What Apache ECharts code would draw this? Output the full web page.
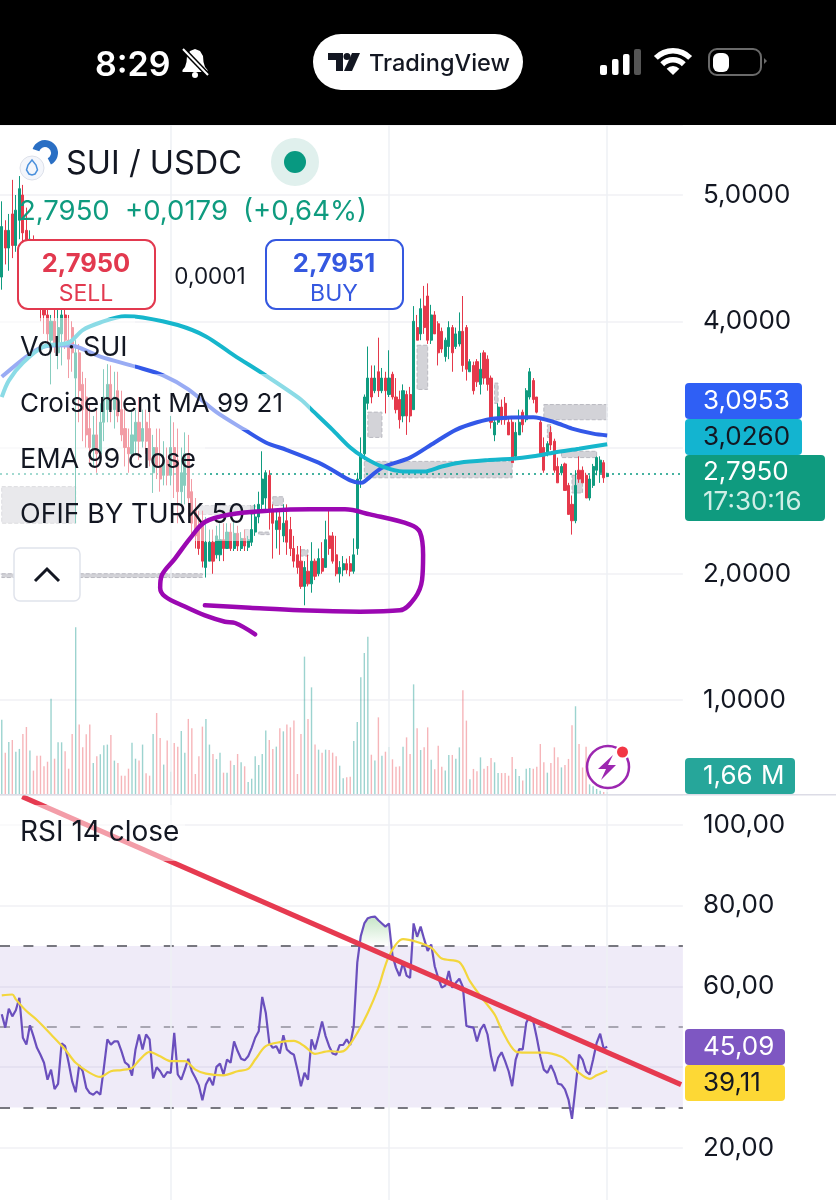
<!DOCTYPE html>
<html><head><meta charset="utf-8">
<style>html,body{margin:0;padding:0;background:#fff}#c{width:836px;height:1200px}</style>
<script src="https://cdn.jsdelivr.net/npm/echarts@6/dist/echarts.min.js"></script>
</head><body><div id="c"></div>
<script>
const opens=[4.35,4.72,4.58,4.85,4.60,4.80,5.00,4.72,4.45,4.60,
4.45,4.30,4.15,4.05,3.85,4.00,3.75,3.90,4.05,3.85,
3.95,3.55,3.75,3.50,3.40,3.15,2.98,3.10,2.95,3.20,
3.30,3.50,3.30,3.45,3.30,3.15,3.00,2.95,3.05,3.20,
3.05,3.20,3.15,2.80,3.00,2.85,2.78,2.90,2.78,3.00,
2.90,2.65,2.70,2.95,2.65,2.50,2.35,2.40,2.05,2.10,
2.25,2.15,2.15,2.27,2.20,2.33,2.20,2.32,2.20,2.28,
2.21,2.25,2.33,2.45,2.55,2.60,2.78,2.50,2.35,2.45,
2.30,2.42,2.35,2.20,2.15,2.10,1.90,2.02,1.92,2.10,
2.00,2.12,2.05,2.30,2.30,2.15,2.00,2.03,2.08,2.08,
2.02,2.20,2.75,2.95,3.35,3.55,3.45,3.60,3.45,3.55,
3.42,3.58,3.40,3.38,3.25,3.42,3.42,3.30,3.95,3.90,
4.12,4.20,3.85,4.05,3.98,3.92,3.72,3.80,3.95,3.80,
3.82,3.92,3.95,3.60,3.65,3.68,3.50,3.75,3.70,3.55,
3.10,3.20,3.32,3.35,3.20,3.20,2.93,3.10,3.28,3.22,
3.40,3.53,3.40,3.20,3.00,2.95,3.12,3.05,2.85,2.80,
2.87,2.70,2.55,2.42,2.82,2.82,2.78,2.60,2.70,2.82,
2.80,2.88,2.77];
const closes=[4.75,4.58,4.72,4.60,4.88,5.05,4.70,4.50,4.65,4.45,
4.30,4.15,4.05,3.90,4.00,3.80,3.95,4.05,3.85,3.70,
3.75,3.75,3.45,3.30,3.10,3.00,3.10,2.95,3.20,3.40,
3.50,3.30,3.40,3.25,3.10,3.00,2.95,3.10,3.20,3.05,
3.15,3.05,2.90,3.00,2.85,2.75,2.90,2.78,3.00,2.85,
2.65,2.80,2.95,2.60,2.40,2.30,2.20,2.10,2.25,2.25,
2.10,2.30,2.27,2.20,2.33,2.20,2.32,2.22,2.28,2.22,
2.27,2.35,2.45,2.55,2.75,2.80,2.50,2.40,2.42,2.35,
2.40,2.25,2.20,2.10,2.05,1.90,2.05,1.92,2.10,1.98,
2.12,2.02,2.27,2.20,2.10,2.00,2.05,2.08,2.03,2.02,
2.15,2.75,2.95,3.40,3.55,3.40,3.55,3.45,3.55,3.45,
3.55,3.40,3.30,3.22,3.45,3.25,3.25,4.00,3.85,4.10,
3.95,3.85,4.05,3.90,3.75,3.78,3.85,3.95,3.75,3.90,
3.92,3.65,3.62,3.68,3.45,3.52,3.62,3.55,3.50,3.20,
3.20,3.32,3.22,3.22,3.10,2.88,3.12,3.20,3.18,3.45,
3.60,3.38,3.28,2.95,2.82,3.03,3.02,2.82,2.72,2.85,
2.66,2.47,2.42,2.70,2.75,2.72,2.60,2.75,2.85,2.92,
2.90,2.76,2.795];
const lows=[4.25,4.45,4.40,4.50,4.55,4.65,4.55,4.30,4.25,4.20,
4.15,4.00,3.90,3.80,3.50,3.75,3.62,3.65,3.78,3.55,
3.60,2.40,3.20,3.05,3.00,2.88,2.85,2.80,2.95,3.05,
3.20,3.20,3.15,3.20,3.05,2.85,2.80,2.90,2.95,2.90,
3.00,2.95,2.85,2.64,2.75,2.65,2.70,2.70,2.70,2.60,
2.40,2.55,2.55,2.45,2.30,2.20,2.15,2.05,1.97,2.10,
2.00,2.12,2.10,2.10,2.20,2.18,2.18,2.18,2.18,2.18,
2.18,2.22,2.30,2.40,2.50,2.50,2.35,2.12,2.20,2.15,
2.25,2.15,2.14,2.05,2.00,1.88,1.75,1.90,1.85,1.95,
1.98,2.00,2.05,2.15,2.08,1.98,1.93,1.98,2.00,1.98,
2.00,2.15,2.68,2.90,3.30,3.35,3.43,3.40,3.43,3.27,
3.40,3.38,3.27,3.15,3.20,3.10,3.20,3.30,3.85,3.85,
3.90,3.82,3.82,3.90,3.65,3.75,3.68,3.70,3.60,3.78,
3.80,3.60,3.53,3.60,3.42,3.48,3.42,3.50,3.45,3.15,
3.05,3.18,3.18,3.18,3.10,2.88,2.90,3.10,3.12,3.20,
3.38,3.35,3.27,2.93,2.80,2.93,2.98,2.80,2.72,2.78,
2.66,2.47,2.31,2.40,2.72,2.72,2.60,2.58,2.68,2.78,
2.72,2.72,2.765];
const highs=[4.95,4.80,4.85,5.12,5.00,5.15,5.08,4.90,4.72,4.68,
4.50,4.40,4.25,4.12,4.05,4.15,4.10,4.15,4.15,4.05,
4.00,3.85,3.82,3.60,3.55,3.35,3.25,3.30,3.35,3.62,
3.66,3.65,3.60,3.60,3.45,3.35,3.15,3.30,3.30,3.40,
3.30,3.30,3.32,3.10,3.15,3.15,3.05,3.00,3.25,3.20,
3.15,3.00,3.12,3.10,2.75,2.60,2.50,2.50,2.45,2.35,
2.35,2.38,2.40,2.40,2.40,2.40,2.42,2.38,2.33,2.35,
2.30,2.50,2.55,2.65,2.97,2.82,2.82,2.55,2.50,2.50,
2.55,2.55,2.45,2.30,2.22,2.22,2.10,2.15,2.25,2.12,
2.20,2.25,2.42,2.50,2.33,2.30,2.10,2.14,2.12,2.14,
2.28,2.80,3.08,3.42,3.80,3.65,3.65,3.87,3.63,3.60,
3.77,3.60,3.55,3.45,3.50,3.45,3.48,4.12,4.05,4.18,
4.28,4.30,4.13,4.08,4.00,3.95,3.87,4.00,3.97,3.95,
4.07,4.20,3.97,3.70,3.68,3.70,3.75,3.77,3.73,3.57,
3.22,3.35,3.38,3.40,3.25,3.25,3.20,3.30,3.30,3.47,
3.63,3.55,3.40,3.22,3.08,3.05,3.17,3.07,2.92,2.87,
2.88,2.72,2.62,2.82,2.93,2.85,2.80,2.78,2.87,2.93,
2.93,2.90,2.80];
const volumes=[61.7,34.3,43.2,44.8,35.1,37.4,49.8,55.6,36,19.4,
31.8,31.8,23,26.8,79.1,29.3,42.9,42.9,35.4,21,
49.8,138.4,57.6,38.7,49.5,57.6,25.7,31.3,33,40.4,
41,49,27.7,25.7,15.2,15.2,21,42.6,29.3,27.7,
41,17.2,15.2,49.8,67.2,46.5,24.4,44.5,18.5,42.3,
39.3,52.3,34.3,62.3,54.5,16.6,31.3,55.9,62.3,41,
33.2,29,34.3,17.7,17.7,27.7,24.1,33.2,26.3,23,
10,12.7,31.3,24.1,33.2,52.8,44.8,37.4,39.3,54.5,
52,57.6,55.3,60.9,16.6,49.8,114,62.3,88.5,41,
36.8,34.3,36.8,36.5,34.3,31.3,23.5,13,13.8,14.4,
44,59.8,96.8,117,130.6,32.6,27.7,63.6,31.8,35.1,
39,28.8,22.7,23,39.3,47,33.2,91,54.5,36.5,
38.7,55.3,28.5,20.5,40.1,22.7,19.4,32.4,32.4,29.3,
38.7,86,60.9,12.2,20.8,18.8,30.4,21,23.2,29.9,
26.3,17.4,17.4,17.4,15.2,30.7,20.8,14.9,11.1,21,
21.6,21,22.7,41.5,26.3,17.7,25.7,38.7,30.4,22.1,
24.1,29.1,57,72.8,41.5,22,39.3,8,6.4,4.2,
2.8,1.7,1.66];
const rsi=[53.1,49.8,54.5,52.6,54.1,57.2,47.3,45.6,50.4,47.7,
44.8,43.1,41.1,36.9,39.4,34.6,35.9,45.9,45.2,41.1,
36.5,33.8,40.5,39,34.9,33.6,33.2,34,33.2,39.8,
46.9,45.6,46.4,46.4,44,41.2,40.5,37.9,44.4,48.1,
44.4,48.1,46.9,37.2,40,39,37.5,38.8,38.6,48.5,
38.2,36.9,39.4,42.1,39,37.4,35.5,31.8,35.7,37.4,
35.5,40.1,40.9,38.2,41.9,41.1,46.4,44,42.1,41.7,
42.7,44.8,47.3,48.9,57.4,53.5,46,44.8,45.2,43.4,
47.9,44.4,43.6,43.1,39.4,35.3,38.6,36.9,46.9,44.4,
47.7,51.3,47.7,45.2,43.4,43.1,45.5,45.5,46.9,45.5,
50.2,65.9,72.5,75.6,76.9,77.2,77.3,76.4,75.6,74.8,
75.6,67.7,64.6,62.6,65.9,62.7,62.1,75.6,72.3,74.8,
71.7,68.8,70.4,65,62.1,59.7,60.2,63.8,59.7,60.9,
61.9,59.9,50.2,50,49.8,46.4,49.3,50.6,48.1,42.7,
39,42.3,43.7,41.5,39,35.3,41.9,44.5,44.4,51,
52.6,51.4,47.3,42.7,39.4,38.6,40.5,38.6,35.9,35.7,
34.5,32,27.2,35,43.1,41.9,39,38.2,41.9,46,
48.3,44.6,45.09];
const rsiMaIdx=[0,3,4,7,10,14,18,21,25,28,31,34,37,39,42,45,48,52,55,58,63,67,70,72,75,79,83,86,89,93,96,98,101,104,107,110,114,118,122,125,130,133,136,140,142,146,149,154,159,161,164,167,169,172];
const rsiMaVal=[57.8,58,56.8,53.9,51.7,48.1,44.4,41.1,38.6,37.6,39,39.3,39.8,41.7,43.8,42.7,41.5,41.5,39.4,38.4,38,39,39.6,41.9,45.2,46.2,46.5,45.2,43.3,44,43.8,44.6,48.5,53.5,59.7,67.5,71.7,71,69.6,66.9,66,61.3,57.6,53.1,49.3,43.9,43.6,43.6,42.6,41.3,38.6,37.1,38,39.11];
const emaIdx=[0,7,11,16,21,28,38,46,53,61,69,75,81,90,94,99,102,103,108,116,123,129,135,140,151,157,162,168,172];
const emaVal=[3.56,3.72,3.79,3.81,3.80,3.72,3.64,3.57,3.46,3.28,3.14,3.04,2.98,2.88,2.82,2.74,2.72,2.73,2.84,2.92,3.04,3.14,3.20,3.23,3.24,3.20,3.15,3.11,3.0953];
const maIdx=[0,2,6,12,19,23,28,35,40,50,58,66,75,85,88,94,99,103,108,114,120,125,130,138,145,151,157,164,172];
const maVal=[3.40,3.53,3.67,3.80,3.83,3.93,3.99,4.04,4.03,3.97,3.88,3.73,3.57,3.38,3.30,3.14,3.00,2.92,2.85,2.81,2.81,2.85,2.88,2.90,2.91,2.93,2.96,2.99,3.026];
const boxStart=[104,118,103,154,159,155,140,162,0,0,56,77,73,85,69];
const boxEnd=[108,121,145,172,169,156,141,165,21,57,72,80,76,87,71];
const boxTop=[3.28,3.81,2.89,3.34,2.97,3.18,3.51,2.78,2.69,2.00,2.54,2.61,2.33,2.19,2.35];
const boxBottom=[3.08,3.46,2.76,3.22,2.92,3.08,3.35,2.64,2.40,1.97,2.47,2.54,2.31,2.14,2.25];
const scribbleIdx=[72,66.3,63.4,57.7,52,46.4,45,45.5,49.2,53.5,57.7,64.8,76.2,87.6,97.5,104.6,116,118.8,119.7,119.4,117.4,113.1,101.8,84.7,70.5,57.7];
const scribbleVal=[1.52,1.61,1.62,1.67,1.74,1.82,1.89,1.99,2.12,2.28,2.41,2.47,2.50,2.51,2.51,2.47,2.39,2.33,2.15,1.95,1.81,1.71,1.70,1.71,1.73,1.75];
const trendIdx=[6.3,193.5];
const trendVal=[107,35.7];
const vLines=[48.5,110.5,172.5];
const lastPrice=2.795;
const rsiLevels=[70,50,30];

const SLOTS=194, BAND=3.52;
const cats=Array.from({length:SLOTS},(_,i)=>String(i));
const GREEN='#0f9b7f', RED='#e5394b';
const candles=opens.map((o,i)=>[o,closes[i],lows[i],highs[i]]);
const volData=volumes.map((v,i)=>({value:v,itemStyle:{color:closes[i]>=opens[i]?'rgba(20,150,140,.42)':'rgba(235,90,100,.45)'}}));
const pair=(a,b,off)=>a.map((x,i)=>[x+(off||0),b[i]]);
const vLine=()=>({silent:true,symbol:'none',label:{show:false},lineStyle:{color:'#eef0f4',width:1.5,type:'solid'},data:vLines.map(x=>({xAxis:x}))});
const comma=(v,d)=>v.toFixed(d).replace('.',',');
const F='Inter, "Noto Sans", sans-serif';

const chart=echarts.init(document.getElementById('c'),null,{renderer:'canvas',width:836,height:1200});
const hiddenCat=g=>({type:'category',gridIndex:g,data:cats,boundaryGap:true,show:false});
const hiddenVal=g=>({type:'value',gridIndex:g,min:0,max:SLOTS,show:false,splitLine:{show:false}});
const overbought=rsi.map(v=>v>70?v-70:null);
const base70=rsi.map(v=>v>70?70:null);

const T=(text,x,y,size,fill,o)=>({type:'text',z:(o&&o.z)||120,x,y:y+4,style:{text,fill,font:(o&&o.weight||400)+' '+size+'px '+F,textAlign:(o&&o.align)||'left',textVerticalAlign:'middle'}});
const R=(x,y,w,h,fill,r,z)=>({type:'rect',z:z||110,shape:{x,y,width:w,height:h,r:r||0},style:{fill}});
const G=(points,fill,z)=>({type:'polygon',z:z||120,shape:{points},style:{fill}});
const haze='rgba(255,255,255,.5)';
const elements=[
 R(0,318,135,56,haze),R(0,374,310,56,haze),R(0,430,205,56,haze),R(0,486,250,55,haze),R(0,805,185,56,haze),
 R(0,0,836,125,'#000',0,150),
 T('8:29',95,62,34,'#fff',{weight:600,z:151}),
 G([[195,49],[190,51],[187,56],[186.5,62],[185,67],[182.5,70],[182.5,72],[207.5,72],[207.5,70],[205,67],[203.5,62],[203,56],[200,51]],'#fff',151),
 {type:'circle',z:151,shape:{cx:195,cy:75,r:3},style:{fill:'#fff'}},
 {type:'line',z:152,shape:{x1:183,y1:49,x2:208,y2:75},style:{stroke:'#000',lineWidth:5}},
 {type:'line',z:153,shape:{x1:183,y1:49,x2:208,y2:75},style:{stroke:'#fff',lineWidth:2}},
 R(313,34,210,56,'#fff',28,151),
 G([[328,53],[343,53],[343,71],[336,71],[336,60],[328,60]],'#131722',152),
 {type:'circle',z:152,shape:{cx:347,cy:56.5,r:3.5},style:{fill:'#131722'}},
 G([[352,53],[360,53],[352,71],[344,71]],'#131722',152),
 T('TradingView',369,60,23.5,'#131722',{weight:500,z:152}),
 R(600,65,7,10,'#fff',2,151),R(612,59,6.5,16,'#fff',2,151),R(623,54,6.5,21,'#fff',2,151),R(634,49,7,26,'#555',2,151),
 {type:'sector',z:151,shape:{cx:673,cy:75,r:9,r0:0,startAngle:-Math.PI*.75,endAngle:-Math.PI*.25},style:{fill:'#fff'}},
 {type:'sector',z:151,shape:{cx:673,cy:75,r:18,r0:12.5,startAngle:-Math.PI*.75,endAngle:-Math.PI*.25},style:{fill:'#fff'}},
 {type:'sector',z:151,shape:{cx:673,cy:75,r:27,r0:21.5,startAngle:-Math.PI*.75,endAngle:-Math.PI*.25},style:{fill:'#fff'}},
 {type:'rect',z:151,shape:{x:709,y:49,width:52,height:26,r:8},style:{fill:'none',stroke:'#6a6a6a',lineWidth:2}},
 R(713,53,16,19,'#fff',6,152),
 G([[764,58],[767,61],[764,64]],'#6a6a6a',151),
 {type:'sector',z:120,shape:{cx:45,cy:153,r:13,r0:6,startAngle:-Math.PI*.9,endAngle:Math.PI*.35},style:{fill:'#2a6fc4'}},
 {type:'circle',z:121,shape:{cx:32,cy:168,r:12},style:{fill:'#f4f6fb',stroke:'#dde1ea',lineWidth:1}},
 {type:'polygon',z:122,shape:{points:[[32,160],[36,165],[37.5,170],[35,174],[32,175],[29,174],[26.5,170],[28,165]]},style:{fill:'none',stroke:'#4a90dc',lineWidth:1.5}},
 T('SUI / USDC',66,160,32.5,'#131722'),
 {type:'circle',z:120,shape:{cx:295,cy:162,r:24},style:{fill:'#e0f0ed'}},
 {type:'circle',z:121,shape:{cx:295,cy:162,r:11},style:{fill:'#089981'}},
 T('2,7950',19,208,27.5,GREEN),T('+0,0179',125,208,27.5,GREEN),T('(+0,64%)',243,208,27.5,GREEN),
 {type:'rect',z:120,shape:{x:18,y:240,width:137,height:69,r:10},style:{fill:'#fff',stroke:'#e2394f',lineWidth:2}},
 T('2,7950',86,260,25.5,'#e2394f',{weight:700,align:'center',z:121}),
 T('SELL',86,290,23,'#e2394f',{align:'center',z:121}),
 T('0,0001',210,273,22.5,'#131722',{align:'center'}),
 {type:'rect',z:120,shape:{x:266,y:240,width:137,height:69,r:10},style:{fill:'#fff',stroke:'#3558e0',lineWidth:2}},
 T('2,7951',334,260,25.5,'#3558e0',{weight:700,align:'center',z:121}),
 T('BUY',334,290,23,'#3558e0',{align:'center',z:121}),
 T('Vol · SUI',20,344,27,'#131722'),T('Croisement MA 99 21',20,400,26,'#131722'),
 T('EMA 99 close',20,456,27,'#131722'),T('OFIF BY TURK 50',20,511,27,'#131722'),
 {type:'rect',z:120,shape:{x:14,y:548,width:66,height:53,r:6},style:{fill:'#fff',stroke:'#e0e3eb',lineWidth:1.5}},
 {type:'polyline',z:121,shape:{points:[[35,581],[47,569],[59,581]]},style:{fill:'none',stroke:'#131722',lineWidth:3}},
 {type:'circle',z:120,shape:{cx:608,cy:767,r:21},style:{fill:'#fff',stroke:'#9c27b0',lineWidth:2.5}},
 G([[613,755],[598,769],[606,769],[601,780],[616,765],[608,765]],'#9c27b0',121),
 {type:'circle',z:121,shape:{cx:622.5,cy:752,r:7.5},style:{fill:'#fff'}},
 {type:'circle',z:122,shape:{cx:622.5,cy:752,r:5.5},style:{fill:'#f23645'}},
 R(0,794,836,1.5,'#dcdce6',0,105),
 R(685,383,117,36,'#2f5ff5',4),T('3,0953',703,397,26,'#fff'),
 R(685,419,117,36,'#13b4d0',4),T('3,0260',703,433,26,'#131722'),
 R(685,455,140,66,'#0f9b7f',4),T('2,7950',703,468,26,'#fff'),T('17:30:16',703,498,26,'#cfeee6'),
 R(685,758,110,36,'#26a69a',4),T('1,66',703,772,26,'#fff'),T('M',761,772,26,'#fff'),
 R(685,1029,100,36,'#7e57c2',4),T('45,09',703,1043,26,'#fff'),
 R(685,1065,100,36,'#fdd835',4),T('39,11',703,1079,26,'#131722'),
 T('RSI 14 close',20,829,28,'#131722')
];

chart.setOption({
 animation:false,
 backgroundColor:'#fff',
 grid:[
  {left:0,width:SLOTS*BAND,top:125,height:575},
  {left:0,width:SLOTS*BAND,top:600,height:194},
  {left:0,width:SLOTS*BAND,top:795,height:353},
  {left:0,width:SLOTS*BAND,top:1148,height:52}
 ],
 xAxis:[hiddenCat(0),hiddenVal(0),hiddenCat(1),hiddenVal(1),hiddenCat(2),hiddenVal(2),hiddenVal(3)],
 yAxis:[
  {type:'value',gridIndex:0,position:'right',min:1,max:5.5545,interval:1,
   axisLine:{show:false},axisTick:{show:false},splitLine:{show:true,lineStyle:{color:'#f0f1f4',width:1.5}},
   axisLabel:{showMaxLabel:false,margin:20,color:'#131722',fontFamily:F,fontSize:26,padding:[0,0,13,0],formatter:v=>comma(v,4)}},
  {type:'value',gridIndex:1,min:0,max:161,show:false,splitLine:{show:false}},
  {type:'value',gridIndex:2,position:'right',min:20,max:107.4,interval:20,
   axisLine:{show:false},axisTick:{show:false},splitLine:{show:true,lineStyle:{color:'#f0f1f4',width:1.5}},
   axisLabel:{showMaxLabel:false,margin:20,color:'#131722',fontFamily:F,fontSize:26,padding:[0,0,10,0],formatter:v=>comma(v,2)}},
  {type:'value',gridIndex:3,min:0,max:1,show:false,splitLine:{show:false}}
 ],
 series:[
  {type:'candlestick',xAxisIndex:0,yAxisIndex:0,data:candles,barWidth:2.6,z:5,clip:false,
   itemStyle:{color:GREEN,color0:RED,borderColor:GREEN,borderColor0:RED,borderWidth:1},
   markArea:{silent:true,z:3,itemStyle:{color:'#d3d3d8',borderColor:'#b9b9c0',borderWidth:1,borderType:'dashed'},
    data:boxStart.map((s,i)=>[{xAxis:s,yAxis:boxTop[i]},{xAxis:boxEnd[i],yAxis:boxBottom[i]}])},
   markLine:{silent:true,symbol:'none',label:{show:false},lineStyle:{color:'#089981',width:1.5,type:[2,4]},data:[{yAxis:lastPrice}]}},
  {type:'line',name:'vlines',xAxisIndex:1,yAxisIndex:0,data:[],markLine:vLine(),z:1},
  {type:'line',name:'EMA 99',xAxisIndex:1,yAxisIndex:0,data:pair(emaIdx,emaVal,.5),smooth:.3,showSymbol:false,lineStyle:{color:'#3358e8',width:4},z:7},
  {type:'line',name:'MA 21',xAxisIndex:1,yAxisIndex:0,data:pair(maIdx,maVal,.5),smooth:.3,showSymbol:false,lineStyle:{color:'#16b6cc',width:4},z:7},
  {type:'line',name:'scribble',xAxisIndex:1,yAxisIndex:0,data:pair(scribbleIdx,scribbleVal,.5),smooth:.35,showSymbol:false,lineStyle:{color:'#9b08b2',width:4.5,cap:'round',join:'round'},z:130},
  {type:'bar',xAxisIndex:2,yAxisIndex:1,data:volData,barWidth:1.4,z:2},
  {type:'line',name:'vlines2',xAxisIndex:3,yAxisIndex:1,data:[],markLine:vLine(),z:1},
  {type:'line',name:'base',xAxisIndex:4,yAxisIndex:2,data:base70,stack:'ob',showSymbol:false,lineStyle:{width:0},z:3},
  {type:'line',name:'ob',xAxisIndex:4,yAxisIndex:2,data:overbought,stack:'ob',showSymbol:false,lineStyle:{width:0},z:3,
   areaStyle:{opacity:1,color:{type:'linear',x:0,y:0,x2:0,y2:1,colorStops:[{offset:0,color:'rgba(76,175,80,.32)'},{offset:1,color:'rgba(76,175,80,0)'}]}}},
  {type:'line',name:'RSI',xAxisIndex:4,yAxisIndex:2,data:rsi,showSymbol:false,lineStyle:{color:'#6a4fbd',width:2.2},z:6,
   markArea:{silent:true,z:1,itemStyle:{color:'rgba(126,87,194,.12)'},data:[[{yAxis:rsiLevels[0]},{yAxis:rsiLevels[2]}]]},
   markLine:{silent:true,symbol:'none',label:{show:false},z:2,
    data:[{yAxis:rsiLevels[0],lineStyle:{color:'#77777f',width:2,type:[10,13.4]}},
          {yAxis:rsiLevels[1],lineStyle:{color:'#a8a6b2',width:2,type:[10,13.4]}},
          {yAxis:rsiLevels[2],lineStyle:{color:'#77777f',width:2,type:[10,13.4]}}]}},
  {type:'line',name:'RSI MA',xAxisIndex:5,yAxisIndex:2,data:pair(rsiMaIdx,rsiMaVal,.5),smooth:.3,showSymbol:false,lineStyle:{color:'#f3d63c',width:2.2},z:7},
  {type:'line',name:'trend',xAxisIndex:5,yAxisIndex:2,data:pair(trendIdx,trendVal),showSymbol:false,lineStyle:{color:'#e63a50',width:5},z:8,markLine:vLine()},
  {type:'line',name:'vlines3',xAxisIndex:6,yAxisIndex:3,data:[],markLine:vLine(),z:1}
 ],
 graphic:{elements}
});
</script></body></html>
